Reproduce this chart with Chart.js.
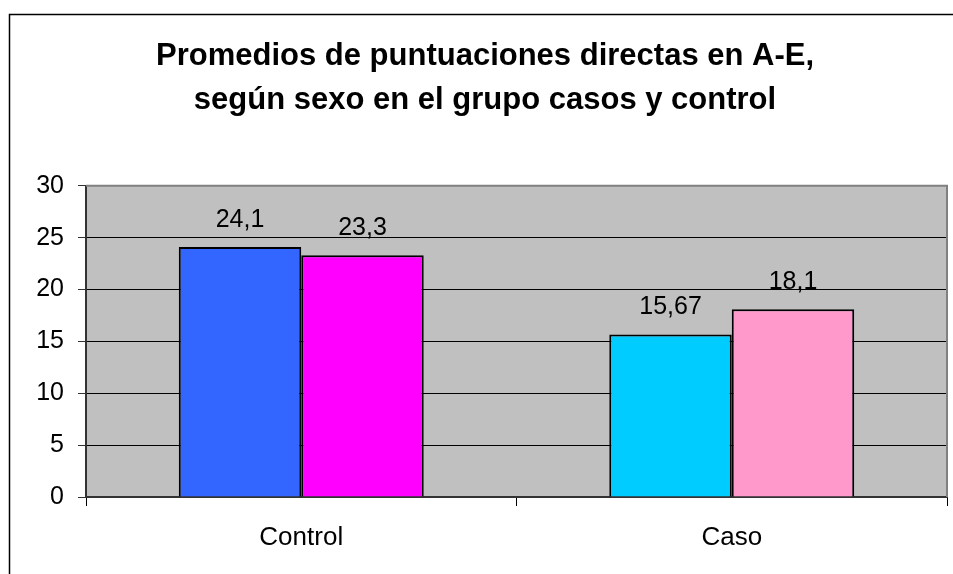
<!DOCTYPE html>
<html>
<head>
<meta charset="utf-8">
<script src="https://cdn.jsdelivr.net/npm/chart.js@4"></script>
<style>
  html, body { margin: 0; padding: 0; background: #fff; overflow: hidden; }
  canvas { display: block; }
</style>
</head>
<body>
<canvas id="chart" width="953" height="574"></canvas>
<script>
const groups = ['Control', 'Caso'];
const masculino = [24.1, 15.67];
const femenino = [23.3, 18.1];
const masculinoColors = ['#3366FF', '#00CCFF'];
const femeninoColors = ['#FF00FF', '#FF99CC'];
const yTicks = [0, 5, 10, 15, 20, 25, 30];

const FONT = '"Liberation Sans", Arial, sans-serif';

// plot background, outer frame and gray top/right border
const frame = {
  id: 'frame',
  beforeDraw(chart) {
    const { ctx, chartArea: a } = chart;
    ctx.save();
    ctx.fillStyle = '#fff';
    ctx.fillRect(0, 0, chart.width, chart.height);
    ctx.strokeStyle = '#000';
    ctx.lineWidth = 1.5;
    ctx.beginPath();
    ctx.moveTo(9.5, chart.height + 5);
    ctx.lineTo(9.5, 14.5);
    ctx.lineTo(chart.width + 5, 14.5);
    ctx.stroke();
    ctx.fillStyle = '#C0C0C0';
    ctx.fillRect(a.left, a.top, a.right - a.left, a.bottom - a.top);
    ctx.restore();
  },
  beforeDatasetsDraw(chart) {
    const { ctx, chartArea: a } = chart;
    ctx.save();
    ctx.strokeStyle = '#808080';
    ctx.lineWidth = 2;
    ctx.beginPath();
    ctx.moveTo(a.left, a.top);
    ctx.lineTo(a.right, a.top);
    ctx.lineTo(a.right, a.bottom);
    ctx.stroke();
    ctx.restore();
  }
};

// value labels above the bars
const valueLabels = {
  id: 'valueLabels',
  afterDatasetsDraw(chart) {
    const { ctx } = chart;
    ctx.save();
    ctx.font = '25px ' + FONT;
    ctx.fillStyle = '#000';
    ctx.textAlign = 'center';
    ctx.textBaseline = 'alphabetic';
    chart.data.datasets.forEach((ds, i) => {
      chart.getDatasetMeta(i).data.forEach((bar, j) => {
        ctx.fillText(String(ds.data[j]).replace('.', ','), bar.x, bar.y - 20);
      });
    });
    ctx.restore();
  }
};

new Chart(document.getElementById('chart'), {
  type: 'bar',
  data: {
    labels: groups,
    datasets: [
      { label: 'Masculino', data: masculino, backgroundColor: masculinoColors, borderColor: '#000', borderWidth: 2 },
      { label: 'Femenino', data: femenino, backgroundColor: femeninoColors, borderColor: '#000', borderWidth: 2 }
    ]
  },
  options: {
    responsive: false,
    animation: false,
    categoryPercentage: 0.569,
    barPercentage: 1.0,
    layout: { padding: { left: 23, right: 6, top: 0, bottom: 0 } },
    plugins: {
      legend: { display: false },
      tooltip: { enabled: false },
      title: {
        display: true,
        text: ['Promedios de puntuaciones directas en A-E,', 'según sexo en el grupo casos y control'],
        color: '#000',
        font: { family: FONT, size: 31, weight: 'bold', lineHeight: 1.4 },
        padding: { top: 35, bottom: 64 }
      }
    },
    scales: {
      x: {
        offset: true,
        grid: {
          offset: true,
          drawOnChartArea: false,
          drawTicks: true,
          tickLength: 9,
          color: '#000'
        },
        border: { display: true, color: '#333', width: 2 },
        ticks: { color: '#000', font: { family: FONT, size: 26 }, padding: 16 },
        afterFit(scale) { scale.height = 574 - 497; }
      },
      y: {
        min: 0,
        max: 30,
        afterBuildTicks(scale) { scale.ticks = yTicks.map(v => ({ value: v })); },
        grid: {
          color: ctx => (ctx.tick && ctx.tick.value === 30 ? '#808080' : '#000'),
          tickColor: '#333',
          tickLength: 8,
          lineWidth: 1
        },
        border: { display: true, color: '#333', width: 2 },
        ticks: { color: '#000', font: { family: FONT, size: 25 }, padding: 14 },
        afterFit(scale) { scale.width = 86 - 23; }
      }
    }
  },
  plugins: [frame, valueLabels]
});
</script>
</body>
</html>
